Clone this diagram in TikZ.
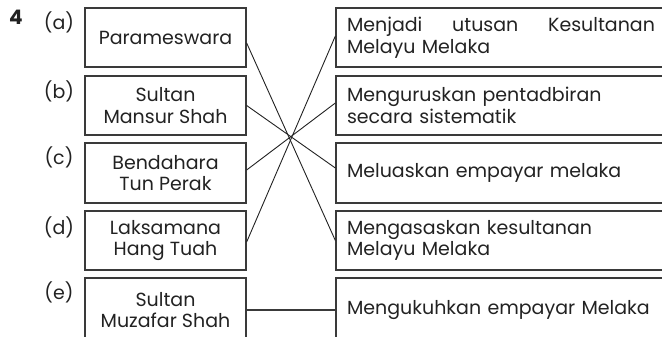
\documentclass[tikz,border=0pt]{standalone}
\usepackage{fontspec}
\setmainfont{Poppins}
\definecolor{ink}{HTML}{222222}
\definecolor{frame}{HTML}{3A3A3A}
\begin{document}
\begin{tikzpicture}[x=1pt,y=-1pt,
  txt/.style={font=\fontsize{19}{21.5}\selectfont, text=ink},
  lbox/.style={txt, draw=frame, line width=1.3pt, minimum width=161pt, inner sep=0pt, align=center},
  rbox/.style={txt, draw=frame, line width=1.3pt, text width=322pt, inner xsep=11pt, inner ysep=0pt, align=left},
  lab/.style={txt, inner sep=0pt},
  conn/.style={draw=ink, line width=0.9pt}
]
\useasboundingbox (0,0) rectangle (662,337);
\clip (0,0) rectangle (662,337);

\node[lab, font=\fontsize{20}{22}\selectfont\bfseries] (num) at (16,17) {4};

\node[lab] (la) at (59,22) {(a)};
\node[lab] (lb) at (59,91) {(b)};
\node[lab] (lc) at (59,157) {(c)};
\node[lab] (ld) at (59,227) {(d)};
\node[lab] (le) at (59,292) {(e)};

\node[lbox, minimum height=59pt] (a) at (165.5,37.5) {Parameswara};
\node[lbox, minimum height=59pt] (b) at (165.5,105.5) {Sultan\\Mansur Shah};
\node[lbox, minimum height=60pt] (c) at (165.5,173) {Bendahara\\Tun Perak};
\node[lbox, minimum height=59pt] (d) at (165.5,240.5) {Laksamana\\Hang Tuah};
\node[lbox, minimum height=64pt] (e) at (165.5,310) {Sultan\\Muzafar Shah};

\node[rbox, minimum height=59pt] (r1) at (508,37.5) {\makebox[308pt][s]{Menjadi\hfill utusan\hfill Kesultanan}\\Melayu Melaka};
\node[rbox, minimum height=59pt] (r2) at (508,105.5) {Menguruskan pentadbiran\\secara sistematik};
\node[rbox, minimum height=60pt] (r3) at (508,173) {Meluaskan empayar melaka};
\node[rbox, minimum height=59pt] (r4) at (508,240.5) {Mengasaskan kesultanan\\Melayu Melaka};
\node[rbox, minimum height=64pt] (r5) at (508,310) {Mengukuhkan empayar Melaka};

\draw[conn] ([yshift=-5.5pt]a.east) -- (r4.west);
\draw[conn] (b.east) -- ([yshift=5pt]r3.west);
\draw[conn] ([yshift=3pt]c.east) -- ([yshift=2.5pt]r2.west);
\draw[conn] ([yshift=-1.5pt]d.east) -- ([yshift=1.5pt]r1.west);
\draw[conn, line width=1.3pt, draw=frame] (e.east) -- (r5.west);
\end{tikzpicture}
\end{document}
